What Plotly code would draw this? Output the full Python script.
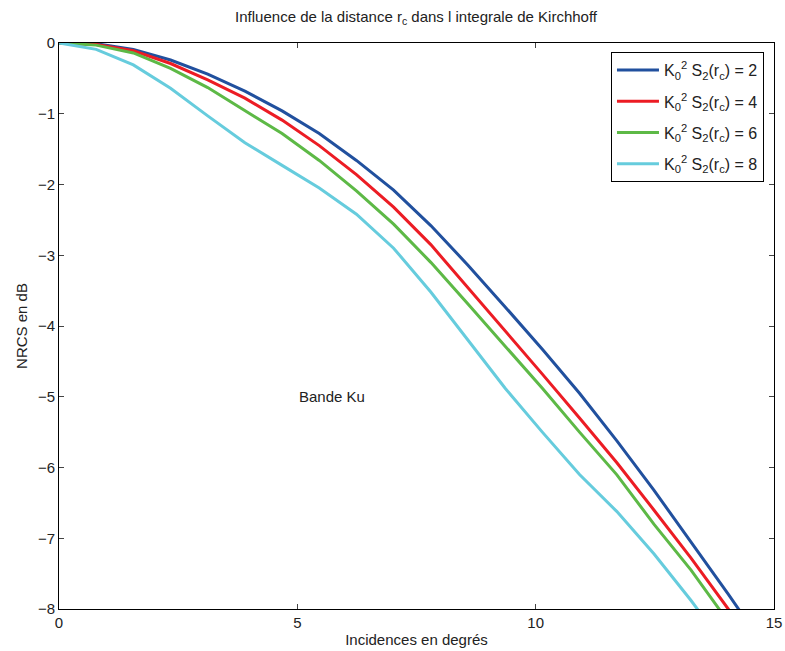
import plotly.graph_objects as go

# Incidence angles (degrees)
incidence = [0, 0.78, 1.56, 2.34, 3.12, 3.90, 4.68, 5.46, 6.24, 7.02, 7.80,
             8.58, 9.36, 10.14, 10.92, 11.70, 12.48, 13.26, 14.04, 14.82]

nrcs_k2 = [0, -0.01, -0.09, -0.24, -0.44, -0.68, -0.96, -1.28, -1.66, -2.08, -2.58,
           -3.14, -3.73, -4.33, -4.95, -5.62, -6.32, -7.05, -7.79, -8.55]
nrcs_k4 = [0, -0.02, -0.11, -0.29, -0.52, -0.78, -1.09, -1.45, -1.86, -2.32, -2.85,
           -3.46, -4.06, -4.68, -5.30, -5.93, -6.60, -7.28, -8.00, -8.75]
nrcs_k6 = [0, -0.03, -0.14, -0.36, -0.63, -0.95, -1.28, -1.66, -2.09, -2.56, -3.10,
           -3.69, -4.28, -4.88, -5.50, -6.10, -6.80, -7.45, -8.18, -8.90]
nrcs_k8 = [0, -0.09, -0.31, -0.64, -1.03, -1.41, -1.73, -2.05, -2.42, -2.90, -3.52,
           -4.20, -4.88, -5.50, -6.10, -6.62, -7.22, -7.88, -8.60, -9.30]

series_labels = ["K<sub>0</sub><sup>2</sup> S<sub>2</sub>(r<sub>c</sub>) = 2",
                 "K<sub>0</sub><sup>2</sup> S<sub>2</sub>(r<sub>c</sub>) = 4",
                 "K<sub>0</sub><sup>2</sup> S<sub>2</sub>(r<sub>c</sub>) = 6",
                 "K<sub>0</sub><sup>2</sup> S<sub>2</sub>(r<sub>c</sub>) = 8"]
series_values = [nrcs_k2, nrcs_k4, nrcs_k6, nrcs_k8]
colors = ["#21509E", "#EC1C24", "#5DB946", "#66CCDD"]

x_ticks = [0, 5, 10, 15]
y_ticks = [0, -1, -2, -3, -4, -5, -6, -7, -8]

FONT = "Liberation Sans, Arial, sans-serif"

fig = go.Figure()
for i, (lab, vals, col) in enumerate(zip(series_labels, series_values, colors)):
    fig.add_trace(go.Scatter(x=incidence, y=vals, mode="lines", name=lab,
                             legendgroup=f"g{i}",
                             line=dict(color=col, width=3)))

fig.update_layout(
    width=785, height=651,
    margin=dict(l=59, r=11, t=43, b=42),
    paper_bgcolor="white", plot_bgcolor="white",
    font=dict(family=FONT, size=14, color="#222"),
    title=dict(text="Influence de la distance r<sub>c</sub> dans l integrale de Kirchhoff",
               x=0.53, xanchor="center",
               y=1 - 17 / 651, yanchor="middle", font=dict(size=15, color="#222")),
    showlegend=True,
    legend=dict(x=0.772, y=0.984, xanchor="left", yanchor="top",
                bordercolor="black", borderwidth=1, bgcolor="white",
                font=dict(size=16, color="#222"), itemwidth=42,
                tracegroupgap=7.5),
    xaxis=dict(range=[0, 15], tickvals=x_ticks, ticks="inside", ticklen=5,
               showline=True, linecolor="black", linewidth=1, mirror="ticks",
               showgrid=False, zeroline=False, tickfont=dict(size=15),
               automargin=False,
               title=dict(text="Incidences en degrés", font=dict(size=15), standoff=4)),
    yaxis=dict(range=[-8, 0], tickvals=y_ticks, ticks="inside", ticklen=5,
               showline=True, linecolor="black", linewidth=1, mirror="ticks",
               showgrid=False, zeroline=False, tickfont=dict(size=15),
               title=dict(text="NRCS en dB", font=dict(size=15), standoff=6)),
    annotations=[dict(x=5, y=-5, xref="x", yref="y", text="Bande Ku",
                      showarrow=False, xanchor="left", yanchor="middle",
                      font=dict(size=15, color="#222"))],
)

fig.write_html("out.html")
